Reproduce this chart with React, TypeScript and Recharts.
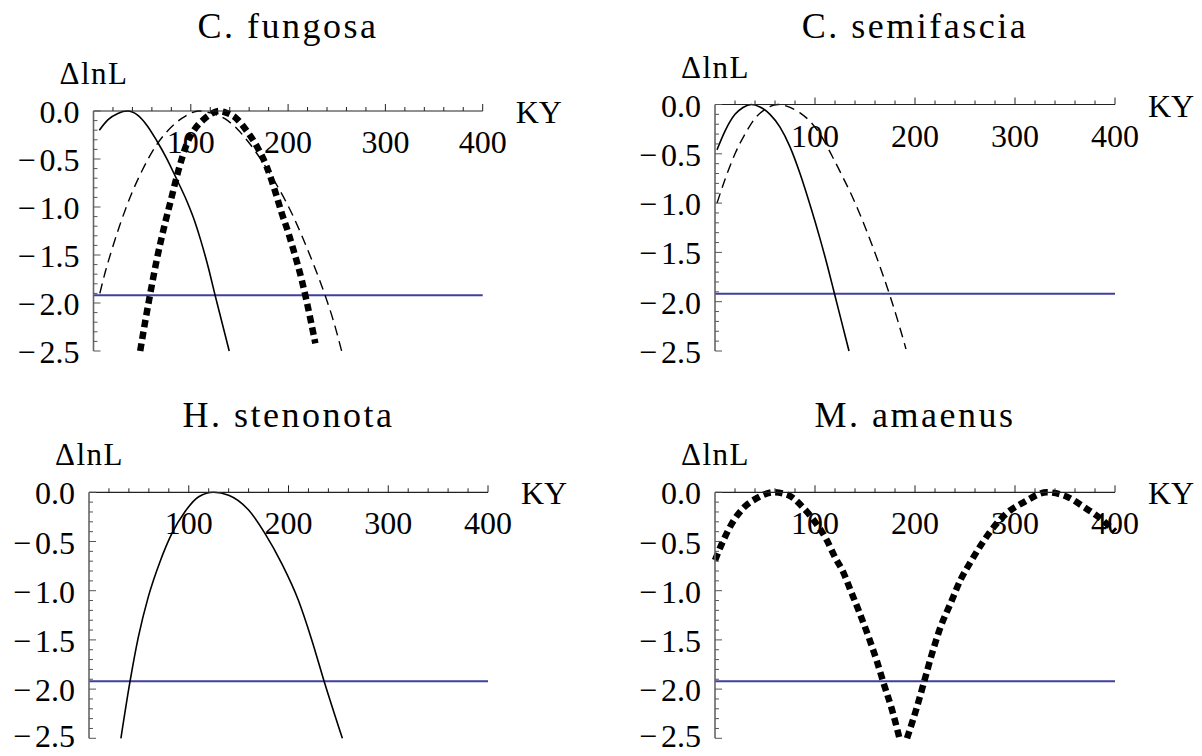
import { LineChart, Line, XAxis, YAxis, ReferenceLine } from "recharts";

const FONT = '"Liberation Serif", "Times New Roman", serif';

// C. fungosa
const fungosaSolidX = [6, 15, 25, 35, 45, 55, 65, 75, 85, 96, 103, 110, 118, 125, 132, 139.5];
const fungosaSolidY = [-0.2, -0.09, -0.025, 0, -0.04, -0.15, -0.31, -0.49, -0.7, -0.94, -1.12, -1.34, -1.63, -1.92, -2.2, -2.5];
const fungosaDashX = [6.5, 12, 18.7, 27, 33, 40, 50, 65, 75, 85, 95, 108, 120, 135, 147, 159, 175, 190, 204, 215, 227, 238, 247, 255];
const fungosaDashY = [-1.9, -1.68, -1.45, -1.19, -1.02, -0.84, -0.62, -0.35, -0.22, -0.12, -0.05, 0, -0.02, -0.08, -0.18, -0.32, -0.55, -0.8, -1.07, -1.32, -1.62, -1.92, -2.2, -2.5];
const fungosaDotX = [48, 53, 58, 65, 73.5, 79, 87, 96, 104, 113, 120, 129, 137, 146, 157, 168, 178, 188, 193, 200, 205, 214, 219, 228];
const fungosaDotY = [-2.5, -2.2, -1.92, -1.55, -1.17, -0.95, -0.63, -0.34, -0.19, -0.09, -0.035, 0, -0.02, -0.07, -0.2, -0.37, -0.58, -0.88, -1.05, -1.26, -1.43, -1.76, -1.98, -2.42];

// C. semifascia
const semiSolidX = [2, 10, 20, 28, 36.5, 45, 55, 65, 75, 85, 96, 105, 112, 120, 127, 134];
const semiSolidY = [-0.46, -0.27, -0.1, -0.03, 0, -0.025, -0.1, -0.23, -0.43, -0.7, -1.05, -1.36, -1.62, -1.94, -2.22, -2.5];
const semiDashX = [2, 10, 20, 30, 40, 50, 63, 75, 85, 95, 105, 118, 128, 138, 150, 162, 175, 183, 191];
const semiDashY = [-1.0, -0.76, -0.5, -0.3, -0.14, -0.05, 0, -0.03, -0.085, -0.17, -0.3, -0.54, -0.74, -0.95, -1.24, -1.56, -1.94, -2.2, -2.48];

// H. stenonota
const stenoSolidX = [32, 41, 49.5, 59.5, 71, 83, 96, 110, 125, 140, 160, 176.5, 193, 210, 223, 236, 254];
const stenoSolidY = [-2.5, -1.93, -1.47, -1.06, -0.71, -0.42, -0.2, -0.045, 0, -0.03, -0.18, -0.42, -0.72, -1.1, -1.49, -1.93, -2.5];

// M. amaenus (null = curve leaves the plot at the bottom)
const amaenusDotX = [0, 8.3, 16.7, 28.4, 41.8, 58.4, 73.5, 88.5, 100, 112, 120, 128.6, 135.3, 143.6, 153.6, 162, 168.6, 177, 182, 184.5, 188, 192, 202, 208.7, 217, 225.5, 235.5, 245.5, 255.5, 267, 279, 292, 309, 332, 352, 369, 386, 400];
const amaenusDotY = [-0.69, -0.49, -0.32, -0.16, -0.06, 0, -0.03, -0.16, -0.3, -0.49, -0.66, -0.82, -0.99, -1.2, -1.47, -1.72, -1.94, -2.21, -2.4, -2.5, null, -2.5, -2.18, -1.94, -1.64, -1.37, -1.13, -0.89, -0.71, -0.52, -0.35, -0.21, -0.1, 0, -0.045, -0.15, -0.27, -0.4];

const threshold = -1.92;

const xTicks = [20, 40, 60, 80, 100, 120, 140, 160, 180, 200, 220, 240, 260, 280, 300, 320, 340, 360, 380, 400];
const xMajor = [100, 200, 300, 400];
const xLabels = ["100", "200", "300", "400"];
const yTicks = [0, -0.1, -0.2, -0.3, -0.4, -0.5, -0.6, -0.7, -0.8, -0.9, -1.0, -1.1, -1.2, -1.3, -1.4, -1.5, -1.6, -1.7, -1.8, -1.9, -2.0, -2.1, -2.2, -2.3, -2.4, -2.5];
const yMajor = [0, -0.5, -1.0, -1.5, -2.0, -2.5];
const yLabels = ["0.0", "−0.5", "−1.0", "−1.5", "−2.0", "−2.5"];

const zip = (xs: number[], ys: (number | null)[]) => xs.map((x, i) => ({ x, y: ys[i] }));

const solid = { stroke: "#000", strokeWidth: 1.6 };
const dashed = { stroke: "#000", strokeWidth: 1.4, strokeDasharray: "10 6" };
const dotted = { stroke: "#000", strokeWidth: 6.5, strokeDasharray: "7.5 4.5" };

const W = 601;
const H = 378;
const AX = 1; // size given to each axis box
const LABEL_SIZE = 32;

// plot rectangles (left, top, right, bottom) inside each 601x378 cell
const panels = [
  {
    title: "C. fungosa", left: 0, top: 0, titleY: 37.5,
    plot: { l: 93.5, t: 111, r: 482.7, b: 351 },
    series: [
      { data: zip(fungosaSolidX, fungosaSolidY), style: solid },
      { data: zip(fungosaDashX, fungosaDashY), style: dashed },
      { data: zip(fungosaDotX, fungosaDotY), style: dotted },
    ],
  },
  {
    title: "C. semifascia", left: 601, top: 0, titleY: 38,
    plot: { l: 114, t: 104.5, r: 514, b: 351 },
    series: [
      { data: zip(semiSolidX, semiSolidY), style: solid },
      { data: zip(semiDashX, semiDashY), style: dashed },
    ],
  },
  {
    title: "H. stenonota", left: 0, top: 378, titleY: 49,
    plot: { l: 89, t: 114.3, r: 488, b: 360.3 },
    series: [{ data: zip(stenoSolidX, stenoSolidY), style: solid }],
  },
  {
    title: "M. amaenus", left: 601, top: 378, titleY: 48.5,
    plot: { l: 114, t: 114.3, r: 514, b: 360.3 },
    series: [{ data: zip(amaenusDotX, amaenusDotY), style: dotted }],
  },
];

function makeXTick(axisY: number) {
  return (props: any) => {
    const v = props.payload.value;
    const cx = props.payload.coordinate ?? props.x;
    const i = xMajor.indexOf(v);
    return (
      <g>
        <line x1={cx} x2={cx} y1={axisY} y2={axisY - (i >= 0 ? 7 : 4)} stroke="#222" strokeWidth={1} />
        {i >= 0 && (
          <text x={cx} y={axisY + 42} textAnchor="middle" fontFamily={FONT} fontSize={LABEL_SIZE} fill="#000">
            {xLabels[i]}
          </text>
        )}
      </g>
    );
  };
}

function makeYTick(axisX: number) {
  return (props: any) => {
    const v = props.payload.value;
    const cy = props.payload.coordinate ?? props.y;
    const i = yMajor.findIndex((m) => Math.abs(m - v) < 1e-6);
    const label = i >= 0 ? yLabels[i] : "";
    // keep the lowest label inside the cell, as the original does
    const ty = Math.min(cy + 12, H - 9);
    return (
      <g>
        <line x1={axisX} x2={axisX + (i >= 0 ? 7 : 4)} y1={cy} y2={cy} stroke="#555" strokeWidth={1} />
        {i >= 0 && (
          <text x={axisX - 14} y={ty} textAnchor="end" fontFamily={FONT} fontSize={LABEL_SIZE} fill="#000">
            {label.startsWith("−") ? (
              <>
                <tspan>−</tspan>
                <tspan dx={4}>{label.slice(1)}</tspan>
              </>
            ) : (
              label
            )}
          </text>
        )}
      </g>
    );
  };
}

function Panel({ p }: { p: (typeof panels)[number] }) {
  const { l, t, r, b } = p.plot;
  const margin = { left: l - AX, top: t - AX, right: W - r, bottom: H - b };
  return (
    <div style={{ position: "absolute", left: p.left, top: p.top, width: W, height: H }}>
      <LineChart width={W} height={H} margin={margin}>
        <XAxis
          type="number"
          dataKey="x"
          domain={[0, 400]}
          ticks={xTicks}
          orientation="top"
          height={AX}
          interval={0}
          tickLine={false}
          axisLine={{ stroke: "#222", strokeWidth: 1.2 }}
          tick={makeXTick(t)}
        />
        <YAxis
          type="number"
          domain={[-2.5, 0]}
          ticks={yTicks}
          width={AX}
          interval={0}
          tickLine={false}
          axisLine={{ stroke: "#666", strokeWidth: 1.6 }}
          tick={makeYTick(l)}
        />
        <ReferenceLine y={threshold} stroke="#3f3f9c" strokeWidth={2} />
        {p.series.map((s, k) => (
          <Line
            key={k}
            data={s.data}
            dataKey="y"
            type="monotone"
            dot={false}
            activeDot={false}
            isAnimationActive={false}
            connectNulls={false}
            {...s.style}
          />
        ))}
      </LineChart>
      <svg width={W} height={H} style={{ position: "absolute", left: 0, top: 0, pointerEvents: "none" }}>
        <text x={(l + r) / 2} y={p.titleY} textAnchor="middle" fontFamily={FONT} fontSize={36} letterSpacing={2.5} fill="#000">
          {p.title}
        </text>
        <text x={l - 34} y={t - 27} fontFamily={FONT} fontSize={31} letterSpacing={1.5} fill="#000">
          ΔlnL
        </text>
        <text x={r + 33} y={t + 12} fontFamily={FONT} fontSize={LABEL_SIZE} fill="#000">
          KY
        </text>
      </svg>
    </div>
  );
}

export default function App() {
  return (
    <div style={{ position: "absolute", left: 0, top: 0, width: 1202, height: 756, background: "#fff" }}>
      {panels.map((p) => (
        <Panel key={p.title} p={p} />
      ))}
    </div>
  );
}
